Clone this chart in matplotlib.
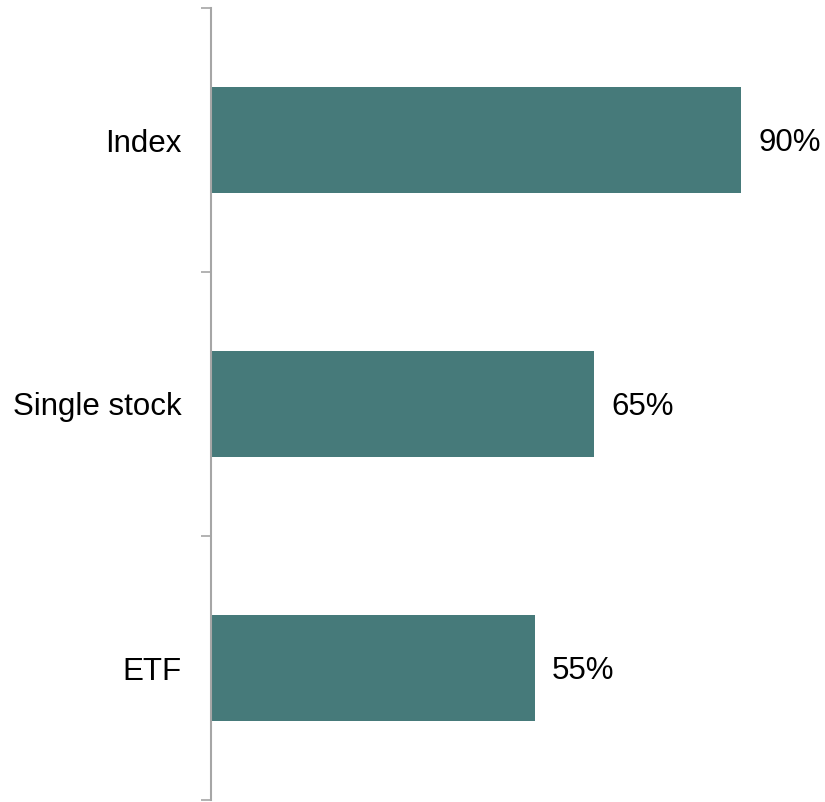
import matplotlib
matplotlib.use('Agg')
import matplotlib.pyplot as plt
from matplotlib.ticker import FixedLocator

categories = ['Index', 'Single stock', 'ETF']
values = [90, 65, 55]

plt.rcParams['font.family'] = ['Liberation Sans', 'DejaVu Sans']

fig = plt.figure(figsize=(8.25, 8.02), dpi=100)
ax = fig.add_axes([211 / 825, 2 / 802, (800 - 211) / 825, 792 / 802])

ypos = list(range(len(categories)))[::-1]
ax.barh(ypos, values, height=0.4, color='#467a7a')

for y, v in zip(ypos, values):
    ax.text(v + 2.9, y - 0.01, f'{v}%', va='center', ha='left', fontsize=22.5, color='black')

ax.set_xlim(0, 100)
ax.set_ylim(-0.5, 2.5)
ax.set_yticks(ypos)
ax.set_yticklabels(categories, fontsize=22.5)
ax.tick_params(axis='y', which='major', length=0, pad=21)
ax.yaxis.set_minor_locator(FixedLocator([-0.5, 0.5, 1.5, 2.5]))
ax.tick_params(axis='y', which='minor', length=7, width=1.2, color='#a6a6a6')
ax.set_xticks([])

for s in ['top', 'right', 'bottom']:
    ax.spines[s].set_visible(False)
ax.spines['left'].set_color('#a6a6a6')
ax.spines['left'].set_linewidth(1.5)

fig.savefig('out.png', dpi=100)
plt.close(fig)
